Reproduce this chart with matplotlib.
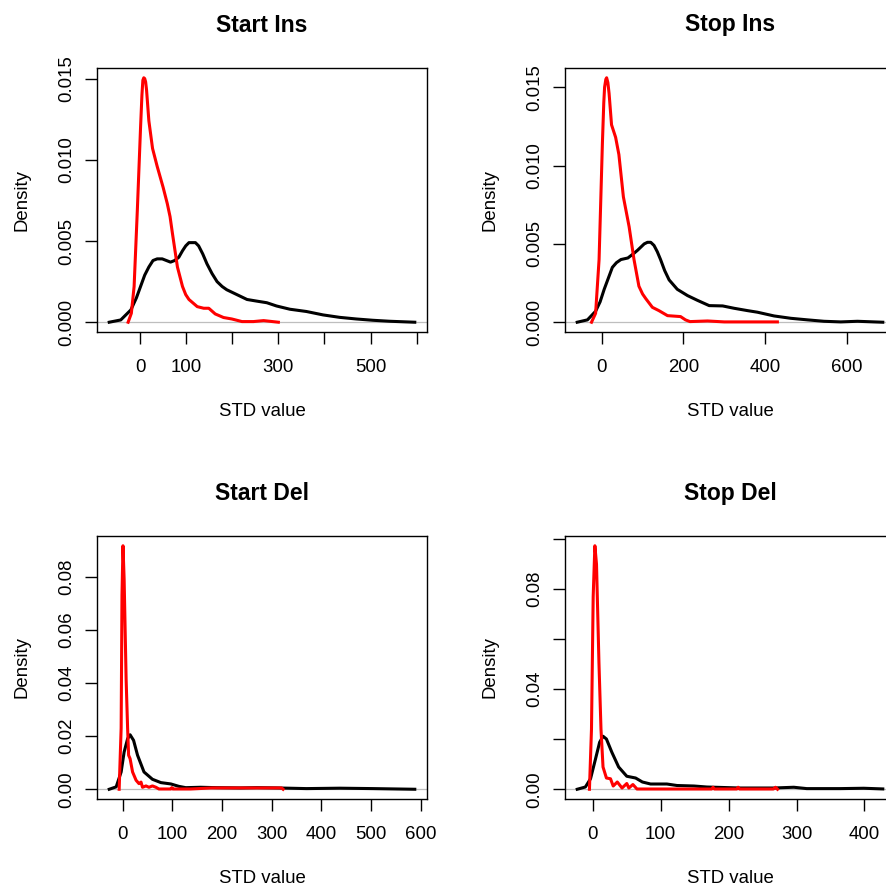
import matplotlib.pyplot as plt

plt.rcParams['font.family'] = ['Liberation Sans', 'DejaVu Sans']

titles = ["Start Ins", "Stop Ins", "Start Del", "Stop Del"]

# density curves: black = all calls, red = subset
start_ins_black_x = [-67, -42, -20, -8, 1, 10, 19, 28, 37, 48, 57, 66, 75, 84, 92, 99, 106, 113,
                     120, 127, 136, 145, 156, 167, 178, 188, 210, 232, 253, 275, 296, 325, 361,
                     397, 433, 469, 505, 541, 596]
start_ins_black_y = [0, 0.00014, 0.00076, 0.0015, 0.0022, 0.0029, 0.0034, 0.0038, 0.0039, 0.0039,
                     0.0038, 0.0037, 0.0038, 0.0040, 0.0044, 0.0047, 0.0049, 0.0049, 0.0049, 0.0047,
                     0.0042, 0.0036, 0.0030, 0.0025, 0.0022, 0.0020, 0.0017, 0.0014, 0.0013, 0.0012,
                     0.0010, 0.0008, 0.00066, 0.00045, 0.0003, 0.0002, 0.00012, 0.00006, 0]
start_ins_red_x = [-26, -19, -13, -6, 1, 4, 6, 8, 10, 12, 14, 19, 27, 37, 50, 59, 65, 70, 81, 92,
                   99, 106, 124, 138, 149, 163, 181, 199, 221, 246, 268, 300]
start_ins_red_y = [0, 0.00055, 0.0022, 0.0069, 0.0120, 0.0140, 0.0149, 0.01505, 0.0150, 0.0148,
                   0.0143, 0.0124, 0.0107, 0.0096, 0.0083, 0.0073, 0.0065, 0.0055, 0.0034, 0.0022,
                   0.0017, 0.0014, 0.00096, 0.00086, 0.00086, 0.00051, 0.00029, 0.0002, 0.00004,
                   0.00004, 0.0001, 0]

stop_ins_black_x = [-60, -35, -15, -4, 6, 16, 26, 36, 47, 64, 79, 88, 96, 104, 112, 120, 128, 136,
                    144, 154, 165, 185, 210, 234, 263, 296, 324, 357, 381, 422, 463, 504, 544,
                    585, 626, 667, 688]
stop_ins_black_y = [0, 0.00015, 0.0007, 0.0013, 0.0021, 0.0028, 0.0035, 0.0038, 0.0040, 0.0041,
                    0.0044, 0.0046, 0.0048, 0.0050, 0.0051, 0.0051, 0.0049, 0.0045, 0.0040, 0.0033,
                    0.0027, 0.0021, 0.0017, 0.0014, 0.00106, 0.00104, 0.00089, 0.00074, 0.00064,
                    0.0004, 0.00025, 0.00015, 0.00006, 0.00002, 0.00006, 0.00002, 0]
stop_ins_red_x = [-25, -15, -6.5, 1.6, 5, 7, 10, 12, 15, 18, 24, 34, 42, 53, 67, 79, 91, 100, 108,
                  124, 140, 161, 193, 205, 216, 259, 300, 381, 430]
stop_ins_red_y = [0, 0.00057, 0.0040, 0.0114, 0.0140, 0.0150, 0.0155, 0.0156, 0.0153, 0.0146,
                  0.0126, 0.0118, 0.0107, 0.0080, 0.0061, 0.0040, 0.0023, 0.0018, 0.0015, 0.00095,
                  0.00074, 0.00042, 0.00036, 0.00015, 0.00004, 0.00008, 0.00002, 0.00002, 0.00002]

start_del_black_x = [-27, -13, -3, 3, 10, 15, 22, 30, 43, 60, 77, 97, 113, 127, 157, 190, 237,
                     270, 310, 370, 437, 503, 588]
start_del_black_y = [0, 0.0009, 0.0065, 0.014, 0.019, 0.0205, 0.0184, 0.0128, 0.0065, 0.00375,
                     0.0025, 0.002, 0.0011, 0.0006, 0.00075, 0.0006, 0.0005, 0.0006, 0.0005,
                     0.00025, 0.0004, 0.00025, 0]
start_del_red_x = [-7, -3, -1.3, 0.7, 3, 7, 10, 12, 15, 20, 27, 33, 37, 40, 47, 53, 60, 67, 73,
                   97, 99, 101, 137, 180, 220, 320, 323]
start_del_red_y = [0, 0.023, 0.073, 0.0916, 0.079, 0.0415, 0.023, 0.0128, 0.0115, 0.0065, 0.0034,
                   0.0021, 0.0027, 0.00075, 0.00125, 0.00075, 0.00125, 0.00075, 0.0001, 0.0001,
                   0.0006, 0.0001, 0.0001, 0.0005, 0.0005, 0.0005, 0]

stop_del_black_x = [-23, -11, -3.4, 4, 10, 15, 20, 28, 38, 50, 63, 73, 85, 109, 124, 149, 168,
                    217, 266, 296, 315, 364, 399, 427]
stop_del_black_y = [0, 0.0009, 0.0042, 0.0122, 0.0188, 0.0212, 0.0201, 0.0148, 0.0089, 0.0052,
                    0.0045, 0.0029, 0.0021, 0.0021, 0.0015, 0.0013, 0.0009, 0.0005, 0.0005,
                    0.0008, 0.00026, 0.00026, 0.0004, 0.00013]
stop_del_red_x = [-5, -2, 0.5, 3, 5.4, 9, 12, 15, 20, 26, 30, 36, 43, 50, 53, 59, 65, 119, 175,
                  177, 179, 212, 214, 216, 266, 269, 272]
stop_del_red_y = [0, 0.024, 0.077, 0.0974, 0.090, 0.0506, 0.024, 0.0089, 0.0045, 0.0042, 0.0013,
                  0.0029, 0.0005, 0.0023, 0.0005, 0.0019, 0.0001, 0.0001, 0.0001, 0.0008, 0.0001,
                  0.0001, 0.0008, 0.0001, 0.0001, 0.0008, 0]

# tick positions / labels (blank where R dropped an overlapping label)
ins_yticks = [0, 0.005, 0.010, 0.015]
ins_ylabels = ["0.000", "0.005", "0.010", "0.015"]
start_ins_xticks = [0, 100, 200, 300, 400, 500, 600]
start_ins_xlabels = ["0", "100", "", "300", "", "500", ""]
stop_ins_xticks = [0, 200, 400, 600]
stop_ins_xlabels = ["0", "200", "400", "600"]
start_del_xticks = [0, 100, 200, 300, 400, 500, 600]
start_del_xlabels = ["0", "100", "200", "300", "400", "500", "600"]
start_del_yticks = [0, 0.02, 0.04, 0.06, 0.08]
start_del_ylabels = ["0.00", "0.02", "0.04", "0.06", "0.08"]
stop_del_xticks = [0, 100, 200, 300, 400]
stop_del_xlabels = ["0", "100", "200", "300", "400"]
stop_del_yticks = [0, 0.02, 0.04, 0.06, 0.08, 0.10]
stop_del_ylabels = ["0.00", "", "0.04", "", "0.08", ""]

panels = [
    (start_ins_black_x, start_ins_black_y, start_ins_red_x, start_ins_red_y,
     start_ins_xticks, start_ins_xlabels, ins_yticks, ins_ylabels),
    (stop_ins_black_x, stop_ins_black_y, stop_ins_red_x, stop_ins_red_y,
     stop_ins_xticks, stop_ins_xlabels, ins_yticks, ins_ylabels),
    (start_del_black_x, start_del_black_y, start_del_red_x, start_del_red_y,
     start_del_xticks, start_del_xlabels, start_del_yticks, start_del_ylabels),
    (stop_del_black_x, stop_del_black_y, stop_del_red_x, stop_del_red_y,
     stop_del_xticks, stop_del_xlabels, stop_del_yticks, stop_del_ylabels),
]

W, H = 886, 885
# plot boxes in pixels: left, top, right, bottom (right column runs past the edge)
boxes = [(97, 68, 427, 332), (565, 68, 895, 332), (97, 536, 427, 799), (565, 536, 895, 799)]

fig = plt.figure(figsize=(W / 100, H / 100), dpi=100)
fs = 13.4

for title, (bx, by, rx, ry, xt, xl, yt, yl), (l, t, r, b) in zip(titles, panels, boxes):
    ax = fig.add_axes([l / W, 1 - b / H, (r - l) / W, (b - t) / H])
    ax.plot(bx, by, color='black', lw=2.2, solid_joinstyle='round')
    ax.axhline(0, color='#BEBEBE', lw=0.9, zorder=1.5)
    ax.plot(rx, ry, color='red', lw=2.2, solid_joinstyle='round', zorder=3)
    ax.margins(x=0.04, y=0.04)

    ax.set_xticks(xt)
    ax.set_xticklabels(xl)
    ax.set_yticks(yt)
    ax.set_yticklabels(yl, rotation=90, va='center')
    ax.tick_params(axis='both', direction='out', length=8.4, width=1, labelsize=fs)
    ax.tick_params(axis='x', pad=11)
    ax.tick_params(axis='y', pad=7)
    for s in ax.spines.values():
        s.set_linewidth(1)

    h = b - t
    w = r - l
    ax.set_title(title, fontsize=16.5, fontweight='bold', y=1 + 36.5 / h, pad=0)
    ax.set_xlabel("STD value", fontsize=fs)
    ax.xaxis.set_label_coords(0.5, -71 / h)
    ax.set_ylabel("Density", fontsize=fs)
    ax.yaxis.set_label_coords(-66 / w, 0.5)

fig.savefig("out.png", dpi=100)
